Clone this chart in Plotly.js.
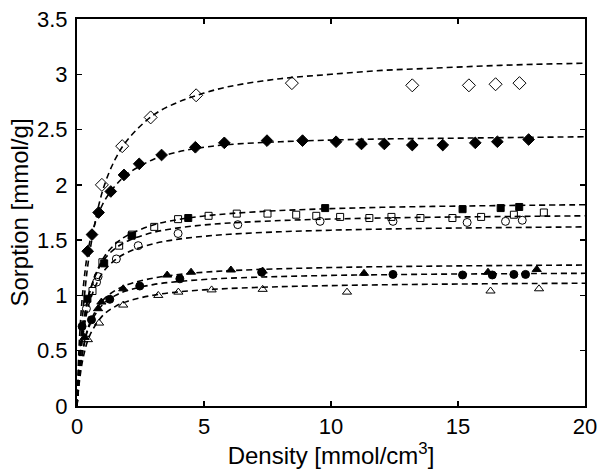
<!DOCTYPE html>
<html>
<head>
<meta charset="utf-8">
<script src="https://cdn.plot.ly/plotly-3.0.1.min.js"></script>
<style>html,body{margin:0;padding:0;background:#fff;}#chart{width:600px;height:473px;}</style>
</head>
<body>
<div id="chart"></div>
<script>
// ---- Measured points ----
const odX = [0.98, 1.78, 2.9, 4.69, 8.46, 13.2, 15.43, 16.48, 17.42];
const odY = [2.0, 2.35, 2.61, 2.81, 2.92, 2.90, 2.90, 2.91, 2.92];

const fdX = [0.42, 0.59, 0.85, 1.33, 1.85, 2.45, 3.33, 4.66, 5.8, 7.48, 8.88, 10.2, 11.2, 12.1, 13.2, 14.4, 15.68, 16.55, 17.78];
const fdY = [1.40, 1.55, 1.75, 1.94, 2.09, 2.19, 2.27, 2.34, 2.38, 2.40, 2.40, 2.39, 2.37, 2.37, 2.36, 2.36, 2.38, 2.39, 2.41];

const fsX = [0.41, 1.07, 2.15, 4.38, 9.77, 15.18, 16.68, 17.41];
const fsY = [0.97, 1.29, 1.54, 1.70, 1.79, 1.78, 1.79, 1.80];

const osX = [0.61, 1.0, 1.66, 2.17, 3.04, 3.98, 5.18, 6.29, 7.5, 8.63, 9.42, 10.36, 11.51, 12.38, 13.52, 14.78, 15.91, 17.2, 18.38];
const osY = [1.04, 1.30, 1.45, 1.55, 1.62, 1.69, 1.72, 1.74, 1.74, 1.73, 1.72, 1.71, 1.70, 1.71, 1.70, 1.70, 1.71, 1.73, 1.75];

const ocX = [0.37, 0.77, 0.83, 1.55, 2.41, 3.98, 6.33, 9.57, 12.44, 15.36, 16.87, 17.53];
const ocY = [0.88, 1.12, 1.17, 1.33, 1.45, 1.56, 1.64, 1.67, 1.67, 1.66, 1.67, 1.68];

const ftX = [0.3, 0.83, 0.96, 1.82, 3.55, 4.49, 6.06, 7.31, 11.3, 16.18, 18.1];
const ftY = [0.62, 0.88, 0.94, 1.06, 1.184, 1.21, 1.23, 1.22, 1.20, 1.21, 1.235];

const fcX = [0.2, 0.57, 1.29, 2.47, 4.05, 7.27, 12.44, 15.18, 16.35, 17.2, 17.66];
const fcY = [0.72, 0.78, 0.965, 1.085, 1.15, 1.21, 1.19, 1.185, 1.185, 1.19, 1.19];

const otX = [0.43, 0.87, 1.82, 3.2, 3.99, 5.3, 7.31, 10.63, 16.28, 18.19];
const otY = [0.60, 0.75, 0.913, 1.0, 1.03, 1.05, 1.055, 1.03, 1.04, 1.06];

// ---- Fitted (dashed) curves ----
const fitX  = [0, 0.1, 0.25, 0.5, 1, 1.5, 2, 3, 4, 5, 6, 8, 10, 12, 14, 16, 18, 20];
const odFit = [0, 0.43, 0.89, 1.39, 1.94, 2.23, 2.41, 2.63, 2.75, 2.83, 2.89, 2.96, 3.00, 3.035, 3.055, 3.075, 3.09, 3.10];
const fdFit = [0, 0.62, 1.08, 1.48, 1.82, 1.99, 2.10, 2.23, 2.30, 2.34, 2.365, 2.39, 2.405, 2.415, 2.42, 2.425, 2.43, 2.435];
const fsFit = [0, 0.369, 0.711, 1.028, 1.323, 1.464, 1.545, 1.637, 1.687, 1.718, 1.740, 1.768, 1.785, 1.797, 1.805, 1.811, 1.816, 1.82];
const osFit = [0, 0.395, 0.738, 1.038, 1.303, 1.424, 1.493, 1.570, 1.611, 1.637, 1.655, 1.677, 1.691, 1.700, 1.707, 1.712, 1.716, 1.72];
const ocFit = [0, 0.349, 0.662, 0.945, 1.202, 1.321, 1.391, 1.467, 1.509, 1.535, 1.553, 1.576, 1.590, 1.600, 1.607, 1.612, 1.616, 1.62];
const ftFit = [0, 0.279, 0.528, 0.750, 0.951, 1.044, 1.098, 1.157, 1.189, 1.210, 1.224, 1.241, 1.252, 1.260, 1.265, 1.269, 1.272, 1.275];
const fcFit = [0, 0.282, 0.523, 0.732, 0.915, 0.998, 1.046, 1.098, 1.126, 1.144, 1.156, 1.171, 1.181, 1.187, 1.192, 1.195, 1.198, 1.20];
const otFit = [0, 0.232, 0.444, 0.637, 0.815, 0.899, 0.948, 1.002, 1.032, 1.050, 1.063, 1.079, 1.089, 1.096, 1.101, 1.105, 1.108, 1.11];

const xTickVals = [0, 5, 10, 15, 20];
const xTickText = ['0', '5', '10', '15', '20'];
const yTickVals = [0, 0.5, 1, 1.5, 2, 2.5, 3, 3.5];
const yTickText = ['0', '0.5', '1', '1.5', '2', '2.5', '3', '3.5'];

const fits = [odFit, fdFit, fsFit, osFit, ocFit, ftFit, fcFit, otFit];
const pts = [
  [odX, odY, 'diamond-open', 10],
  [fdX, fdY, 'diamond', 9],
  [fsX, fsY, 'square', 7],
  [osX, osY, 'square-open', 7],
  [ocX, ocY, 'circle-open', 8],
  [ftX, ftY, 'triangle-up', 8],
  [fcX, fcY, 'circle', 8],
  [otX, otY, 'triangle-up-open', 8]
];

const traces = [];
fits.forEach(f => traces.push({
  x: fitX, y: f, mode: 'lines', type: 'scatter', showlegend: false,
  line: {color: '#000', width: 1.6, dash: '6px,4px', shape: 'spline', smoothing: 1.0},
  hoverinfo: 'skip'
}));
pts.forEach(p => traces.push({
  x: p[0], y: p[1], mode: 'markers', type: 'scatter', showlegend: false,
  marker: {symbol: p[2], size: p[3], color: '#000', line: {color: '#000', width: 1}}
}));

const fontFam = 'Liberation Sans, Arial, sans-serif';
const layout = {
  width: 600, height: 473,
  margin: {l: 77, r: 15, t: 19, b: 67},
  paper_bgcolor: '#fff', plot_bgcolor: '#fff',
  font: {family: fontFam, size: 22, color: '#000'},
  xaxis: {
    range: [0, 20], tickvals: xTickVals, ticktext: xTickText,
    ticks: 'inside', ticklen: 5, tickwidth: 1.5, tickcolor: '#000',
    showline: true, linewidth: 2, linecolor: '#000', mirror: 'ticks',
    showgrid: false, zeroline: false,
    tickfont: {size: 22},
    title: {text: 'Density [mmol/cm<sup>3</sup>]', font: {size: 24}, standoff: 2}
  },
  yaxis: {
    range: [0, 3.5], tickvals: yTickVals, ticktext: yTickText,
    ticks: 'inside', ticklen: 5, tickwidth: 1.5, tickcolor: '#000',
    showline: true, linewidth: 2, linecolor: '#000', mirror: 'ticks',
    showgrid: false, zeroline: false,
    tickfont: {size: 22}, ticklabelstandoff: 3,
    title: {text: 'Sorption [mmol/g]', font: {size: 24}, standoff: 2}
  }
};
Plotly.newPlot('chart', traces, layout, {displayModeBar: false, staticPlot: true});
</script>
</body>
</html>
